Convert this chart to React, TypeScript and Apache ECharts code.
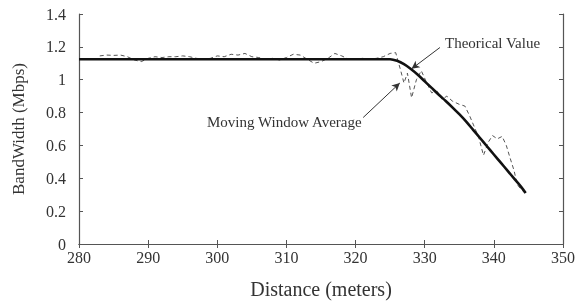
import React, { useEffect, useRef } from "react";
import * as echarts from "echarts";

const theoX = [280, 325, 326, 327, 328, 329, 330, 331, 332, 333, 334, 335, 336, 337, 338, 339, 340, 341, 342, 343, 344, 344.6];
const theoY = [1.125, 1.125, 1.115, 1.095, 1.065, 1.03, 0.99, 0.95, 0.91, 0.872, 0.832, 0.79, 0.745, 0.695, 0.645, 0.595, 0.545, 0.495, 0.445, 0.395, 0.345, 0.31];

const avgX = [283, 284, 285, 286, 287, 288, 289, 290, 291, 292, 293, 294, 295, 296, 297, 298, 299, 300, 301, 302, 303, 304, 305, 306, 307, 308, 309, 310, 311, 312, 313, 314, 315, 316, 317, 318, 319, 320, 321, 322, 323, 324, 325, 325.8, 326.5, 327, 327.5, 328.1, 328.8, 329.5, 330.3, 331, 331.8, 332.5, 333.2, 334, 335, 335.8, 336.5, 337, 337.8, 338.5, 339.2, 339.8, 340.5, 341.2, 341.8, 342.3, 342.9, 343.4, 344, 344.5];
const avgY = [1.145, 1.15, 1.148, 1.15, 1.14, 1.12, 1.11, 1.13, 1.14, 1.135, 1.14, 1.14, 1.145, 1.14, 1.13, 1.125, 1.13, 1.145, 1.14, 1.155, 1.15, 1.16, 1.14, 1.135, 1.125, 1.13, 1.12, 1.135, 1.155, 1.15, 1.125, 1.1, 1.11, 1.13, 1.16, 1.145, 1.125, 1.125, 1.13, 1.125, 1.13, 1.14, 1.16, 1.165, 1.06, 0.98, 1.04, 0.89, 1.0, 1.055, 0.98, 0.92, 0.93, 0.88, 0.9, 0.87, 0.85, 0.84, 0.78, 0.73, 0.65, 0.54, 0.62, 0.66, 0.64, 0.655, 0.6, 0.53, 0.45, 0.36, 0.33, 0.31];

const xTicks = [280, 350, 10];
const yTicks = [0, 1.4, 0.2];

const theoArrow = [[332.2, 1.196], [328.1, 1.066]];
const avgArrow = [[321.1, 0.77], [326.4, 0.98]];

const FONT = "'Liberation Serif', 'Times New Roman', serif";
const AXIS_COLOR = "#555";

export default function App() {
  const ref = useRef<HTMLDivElement>(null);
  useEffect(() => {
    if (!ref.current) return;
    const chart = echarts.init(ref.current, undefined, { renderer: "svg" });
    const axisCommon = {
      type: "value" as const,
      axisLine: { show: true, lineStyle: { color: AXIS_COLOR, width: 1.2 } },
      axisTick: { show: true, inside: true, length: 4, lineStyle: { color: AXIS_COLOR } },
      splitLine: { show: false },
    };
    chart.setOption({
      animation: false,
      grid: { left: 79, right: 12, top: 14, bottom: 57 },
      textStyle: { fontFamily: FONT },
      xAxis: [
        {
          ...axisCommon,
          min: xTicks[0],
          max: xTicks[1],
          interval: xTicks[2],
          position: "bottom",
          axisLabel: { color: "#333", fontSize: 16, fontFamily: FONT, margin: 5 },
          name: "Distance (meters)",
          nameLocation: "middle",
          nameGap: 35,
          nameTextStyle: { color: "#333", fontSize: 20, fontFamily: FONT },
        },
        {
          ...axisCommon,
          min: xTicks[0],
          max: xTicks[1],
          interval: xTicks[2],
          position: "top",
          axisLabel: { show: false },
        },
      ],
      yAxis: [
        {
          ...axisCommon,
          min: yTicks[0],
          max: yTicks[1],
          interval: yTicks[2],
          position: "left",
          axisLabel: { color: "#333", fontSize: 16, fontFamily: FONT, margin: 13 },
          name: "BandWidth (Mbps)",
          nameLocation: "middle",
          nameGap: 52,
          nameTextStyle: { color: "#333", fontSize: 17, fontFamily: FONT },
        },
        {
          ...axisCommon,
          min: yTicks[0],
          max: yTicks[1],
          interval: yTicks[2],
          position: "right",
          axisLabel: { show: false },
        },
      ],
      series: [
        {
          type: "line",
          data: avgX.map((x, i) => [x, avgY[i]]),
          showSymbol: false,
          lineStyle: { color: "#555", width: 1, type: [4, 3] },
          z: 2,
        },
        {
          type: "line",
          data: theoX.map((x, i) => [x, theoY[i]]),
          showSymbol: false,
          smooth: 0.3,
          lineStyle: { color: "#111", width: 2.6 },
          z: 3,
          markLine: {
            silent: true,
            symbol: ["none", "arrow"],
            symbolSize: [6, 8],
            label: { show: false },
            lineStyle: { color: "#333", width: 1, type: "solid" },
            data: [
              [{ coord: theoArrow[0] }, { coord: theoArrow[1] }],
              [{ coord: avgArrow[0] }, { coord: avgArrow[1] }],
            ],
          },
        },
      ],
      graphic: [
        {
          type: "text",
          left: 445,
          top: 35,
          style: { text: "Theorical Value", fontSize: 15, fontFamily: FONT, fill: "#333" },
        },
        {
          type: "text",
          left: 207,
          top: 114,
          style: { text: "Moving Window Average", fontSize: 15, fontFamily: FONT, fill: "#333" },
        },
      ],
    });
    return () => chart.dispose();
  }, []);
  return (
    <div
      ref={ref}
      style={{ position: "fixed", left: 0, top: 0, width: 578, height: 304 }}
    />
  );
}
